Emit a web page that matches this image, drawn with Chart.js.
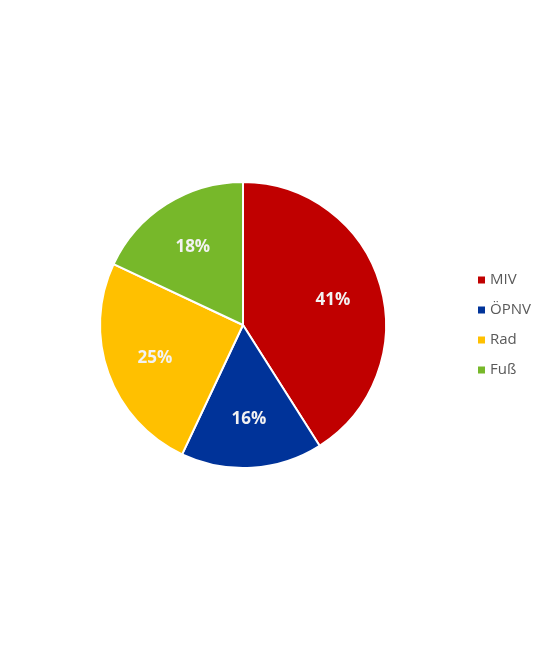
<!DOCTYPE html>
<html>
<head>
<meta charset="utf-8">
<script src="https://cdn.jsdelivr.net/npm/chart.js@4.4.0/dist/chart.umd.min.js"></script>
<style>
  html, body { margin: 0; padding: 0; background: #ffffff; }
  #wrap { width: 560px; height: 650px; position: relative; }
</style>
</head>
<body>
<div id="wrap"><canvas id="modalChart"></canvas></div>
<script>
// --- data ---
const categories = ["MIV", "ÖPNV", "Rad", "Fuß"];
const shares = [41, 16, 25, 18];
const sliceColors = ["#C00000", "#003399", "#FFC000", "#77B82A"];

// percentage labels inside the slices
const sliceLabels = {
    id: 'sliceLabels',
    afterDatasetsDraw(chart) {
        const ctx = chart.ctx;
        const meta = chart.getDatasetMeta(0);
        ctx.save();
        ctx.font = 'bold 17px "Open Sans", "DejaVu Sans", sans-serif';
        ctx.fillStyle = '#F2F2F2';
        ctx.textAlign = 'center';
        ctx.textBaseline = 'middle';
        meta.data.forEach((arc, i) => {
            const p = arc.getProps(['x', 'y', 'startAngle', 'endAngle', 'outerRadius']);
            const mid = (p.startAngle + p.endAngle) / 2;
            const r = p.outerRadius * 0.655;
            ctx.fillText(shares[i] + '%', p.x + Math.cos(mid) * r, p.y + Math.sin(mid) * r + 1);
        });
        ctx.restore();
    }
};

// legend on the right, small square markers
const sideLegend = {
    id: 'sideLegend',
    afterDraw(chart) {
        const ctx = chart.ctx;
        ctx.save();
        ctx.font = '15px "Open Sans", "DejaVu Sans", sans-serif';
        ctx.textBaseline = 'middle';
        categories.forEach((name, i) => {
            const y = 280 + i * 30;
            ctx.fillStyle = sliceColors[i];
            ctx.fillRect(478, y - 3.5, 7, 7);
            ctx.fillStyle = '#595959';
            ctx.fillText(name, 490, y);
        });
        ctx.restore();
    }
};

new Chart(document.getElementById('modalChart'), {
    type: 'pie',
    data: {
        labels: categories,
        datasets: [{
            data: shares,
            backgroundColor: sliceColors,
            borderColor: '#ffffff',
            borderWidth: 2
        }]
    },
    options: {
        responsive: true,
        maintainAspectRatio: false,
        animation: false,
        layout: { padding: { left: 99, right: 173, top: 181, bottom: 181 } },
        plugins: {
            legend: { display: false },
            tooltip: { enabled: false }
        }
    },
    plugins: [sliceLabels, sideLegend]
});
</script>
</body>
</html>
